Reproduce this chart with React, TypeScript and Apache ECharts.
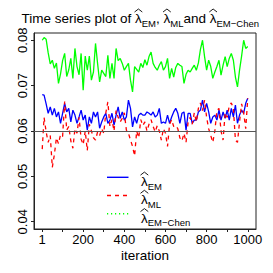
import React, { useEffect, useRef } from "react";
import * as echarts from "echarts";

const iterations: number[] = [
  1, 10, 20, 30, 40, 50, 60, 70, 80, 90, 100, 110, 120, 130, 140, 150, 160, 170, 180, 190,
  200, 210, 220, 230, 240, 250, 260, 270, 280, 290, 300, 310, 320, 330, 340, 350, 360, 370, 380, 390,
  400, 410, 420, 430, 440, 450, 460, 470, 480, 490, 500, 510, 520, 530, 540, 550, 560, 570, 580, 590,
  600, 610, 620, 630, 640, 650, 660, 670, 680, 690, 700, 710, 720, 730, 740, 750, 760, 770, 780, 790,
  800, 810, 820, 830, 840, 850, 860, 870, 880, 890, 900, 910, 920, 930, 940, 950, 960, 970, 980, 990, 1000,
];

const lambdaEM: number[] = [
  0.0680, 0.0679, 0.0660, 0.0639, 0.0653, 0.0635, 0.0650, 0.0631, 0.0642, 0.0617,
  0.0639, 0.0661, 0.0642, 0.0650, 0.0620, 0.0646, 0.0635, 0.0617, 0.0631, 0.0646,
  0.0624, 0.0635, 0.0602, 0.0631, 0.0617, 0.0642, 0.0631, 0.0642, 0.0606, 0.0620,
  0.0631, 0.0639, 0.0617, 0.0624, 0.0639, 0.0613, 0.0635, 0.0653, 0.0628, 0.0642,
  0.0624, 0.0631, 0.0668, 0.0650, 0.0609, 0.0631, 0.0617, 0.0635, 0.0639, 0.0635,
  0.0635, 0.0642, 0.0639, 0.0635, 0.0642, 0.0631, 0.0635, 0.0650, 0.0617, 0.0620,
  0.0617, 0.0635, 0.0617, 0.0631, 0.0642, 0.0650, 0.0639, 0.0617, 0.0639, 0.0642,
  0.0602, 0.0639, 0.0639, 0.0617, 0.0624, 0.0624, 0.0642, 0.0646, 0.0668, 0.0642,
  0.0661, 0.0642, 0.0617, 0.0631, 0.0635, 0.0624, 0.0646, 0.0624, 0.0642, 0.0628,
  0.0646, 0.0624, 0.0650, 0.0631, 0.0657, 0.0617, 0.0635, 0.0646, 0.0639, 0.0661, 0.0672,
];

const lambdaML: number[] = [
  0.0560, 0.0630, 0.0598, 0.0575, 0.0590, 0.0520, 0.0548, 0.0585, 0.0572, 0.0592,
  0.0588, 0.0665, 0.0602, 0.0610, 0.0578, 0.0562, 0.0605, 0.0595, 0.0630, 0.0582,
  0.0570, 0.0600, 0.0557, 0.0615, 0.0600, 0.0585, 0.0580, 0.0598, 0.0590, 0.0605,
  0.0595, 0.0640, 0.0664, 0.0610, 0.0625, 0.0600, 0.0645, 0.0630, 0.0620, 0.0628,
  0.0640, 0.0602, 0.0595, 0.0580, 0.0566, 0.0545, 0.0600, 0.0585, 0.0625, 0.0612,
  0.0620, 0.0600, 0.0615, 0.0625, 0.0610, 0.0598, 0.0612, 0.0600, 0.0580, 0.0605,
  0.0595, 0.0566, 0.0615, 0.0625, 0.0610, 0.0612, 0.0605, 0.0585, 0.0578, 0.0595,
  0.0575, 0.0620, 0.0630, 0.0615, 0.0640, 0.0620, 0.0650, 0.0662, 0.0645, 0.0668,
  0.0630, 0.0605, 0.0590, 0.0575, 0.0600, 0.0645, 0.0650, 0.0600, 0.0580, 0.0640,
  0.0630, 0.0655, 0.0662, 0.0650, 0.0580, 0.0575, 0.0620, 0.0660, 0.0640, 0.0605, 0.0672,
];

const lambdaChen: number[] = [
  0.0800, 0.0806, 0.0802, 0.0772, 0.0748, 0.0756, 0.0738, 0.0750, 0.0705, 0.0726,
  0.0755, 0.0771, 0.0720, 0.0735, 0.0760, 0.0716, 0.0782, 0.0742, 0.0724, 0.0771,
  0.0690, 0.0765, 0.0734, 0.0765, 0.0712, 0.0730, 0.0793, 0.0749, 0.0708, 0.0734,
  0.0727, 0.0720, 0.0767, 0.0716, 0.0749, 0.0716, 0.0782, 0.0755, 0.0760, 0.0749,
  0.0734, 0.0742, 0.0749, 0.0712, 0.0686, 0.0742, 0.0736, 0.0730, 0.0749, 0.0740,
  0.0757, 0.0745, 0.0764, 0.0774, 0.0749, 0.0740, 0.0734, 0.0745, 0.0753, 0.0734,
  0.0742, 0.0760, 0.0716, 0.0738, 0.0719, 0.0740, 0.0749, 0.0745, 0.0742, 0.0705,
  0.0725, 0.0734, 0.0730, 0.0738, 0.0745, 0.0734, 0.0750, 0.0780, 0.0800, 0.0764,
  0.0734, 0.0756, 0.0742, 0.0716, 0.0730, 0.0742, 0.0756, 0.0723, 0.0745, 0.0764,
  0.0742, 0.0760, 0.0771, 0.0756, 0.0719, 0.0697, 0.0734, 0.0765, 0.0800, 0.0782, 0.0786,
];

const xTickValues: number[] = [1, 100, 200, 300, 400, 500, 600, 700, 800, 900, 1000];
const xLabelValues: number[] = [1, 200, 400, 600, 800, 1000];
const yTickValues: number[] = [0.04, 0.05, 0.06, 0.07, 0.08];
const refLine = 0.06;

// title pieces: [text, isSubscript, hasHat]
const titlePieces: [string, boolean, boolean][] = [
  ["Time series plot of ", false, false],
  ["\u03bb", false, true],
  ["EM", true, false],
  [", ", false, false],
  ["\u03bb", false, true],
  ["ML", true, false],
  ["and ", false, false],
  ["\u03bb", false, true],
  ["EM\u2212Chen", true, false],
];
const legendLabels: string[] = ["EM", "ML", "EM\u2212Chen"];
const legendColors: string[] = ["#0000ff", "#ff0000", "#00ff00"];

const FONT = "'Liberation Sans', Arial, Helvetica, sans-serif";
const INK = "#222";
const MAIN = 13.5;
const SUB = 9.5;

function measure(text: string, size: number): number {
  const c = document.createElement("canvas");
  const ctx = c.getContext("2d");
  if (!ctx) return text.length * size * 0.55;
  ctx.font = `${size}px ${FONT}`;
  return ctx.measureText(text).width;
}

// lays out a math-like label: main text bottom at y, subscripts lowered, hats drawn above λ
function mathLabel(pieces: [string, boolean, boolean][], x0: number, bottom: number): any[] {
  const out: any[] = [];
  let x = x0;
  pieces.forEach(([t, sub, hat]) => {
    const size = sub ? SUB : MAIN;
    const w = measure(t, size);
    out.push({
      type: "text",
      x,
      y: sub ? bottom + 2.5 : bottom,
      style: {
        text: t,
        fontSize: size,
        fontFamily: FONT,
        fontWeight: "normal",
        fill: "#000",
        verticalAlign: "bottom",
      },
      z: 10,
    });
    if (hat) {
      out.push({
        type: "polyline",
        shape: {
          points: [
            [x - 0.5, bottom - 13.5],
            [x + w / 2, bottom - 16.5],
            [x + w + 0.5, bottom - 13.5],
          ],
        },
        style: { stroke: "#000", lineWidth: 0.9, fill: null },
        z: 10,
      });
    }
    x += w;
  });
  return out;
}

export default function App() {
  const ref = useRef<HTMLDivElement>(null);
  useEffect(() => {
    if (!ref.current) return;
    const chart = echarts.init(ref.current, null, { renderer: "svg" });
    const pair = (vals: number[]) => iterations.map((it, k) => [it, vals[k]]);
    const dashes: any[] = [null, [4, 4], [1.2, 2.8]];
    const lineYs = [177.3, 195.5, 213.8];
    const graphics: any[] = [];
    graphics.push(...mathLabel(titlePieces, 21.5, 25.5));
    legendLabels.forEach((lab, k) => {
      graphics.push({
        type: "line",
        shape: { x1: 107, y1: lineYs[k], x2: 128.5, y2: lineYs[k] },
        style: { stroke: legendColors[k], lineWidth: 1.4, lineDash: dashes[k] },
        z: 10,
      });
      graphics.push(
        ...mathLabel(
          [
            ["\u03bb", false, true],
            [lab, true, false],
          ],
          141,
          lineYs[k] + 11.3
        )
      );
    });
    chart.setOption({
      animation: false,
      backgroundColor: "#fff",
      grid: { left: 34, right: 17, top: 33, bottom: 44, show: true, borderColor: INK, borderWidth: 1 },
      xAxis: {
        type: "value",
        min: -39,
        max: 1040,
        splitLine: { show: false },
        axisLine: { show: true, onZero: false, lineStyle: { color: INK, width: 1 } },
        axisTick: { show: true, length: 3, customValues: xTickValues, lineStyle: { color: INK } },
        axisLabel: {
          customValues: xLabelValues,
          margin: 5,
          fontSize: 13,
          lineHeight: 11,
          fontFamily: FONT,
          color: "#000",
          hideOverlap: false,
          formatter: (v: number) => String(v),
        },
        name: "iteration",
        nameLocation: "middle",
        nameGap: 20,
        nameMoveOverlap: false,
        nameTextStyle: { fontSize: 13.5, fontFamily: FONT, color: "#000", verticalAlign: "top", lineHeight: 12 },
      },
      yAxis: {
        type: "value",
        min: 0.0384,
        max: 0.0816,
        splitLine: { show: false },
        axisLine: { show: true, onZero: false, lineStyle: { color: INK, width: 1 } },
        axisTick: { show: true, length: 3, customValues: yTickValues, lineStyle: { color: INK } },
        axisLabel: {
          customValues: yTickValues,
          rotate: 90,
          margin: 5,
          fontSize: 13,
          fontFamily: FONT,
          color: "#000",
          formatter: (v: number) => v.toFixed(2),
        },
      },
      series: [
        {
          name: "EM",
          type: "line",
          data: pair(lambdaEM),
          showSymbol: false,
          symbol: "none",
          lineStyle: { color: "#0000ff", width: 1.3 },
          z: 3,
          markLine: {
            silent: true,
            symbol: "none",
            label: { show: false },
            lineStyle: { color: "#555", width: 1, type: "solid" },
            data: [{ yAxis: refLine }],
          },
        },
        {
          name: "ML",
          type: "line",
          data: pair(lambdaML),
          showSymbol: false,
          symbol: "none",
          lineStyle: { color: "#ff0000", width: 1.3, type: [4, 4] },
          z: 4,
        },
        {
          name: "EM-Chen",
          type: "line",
          data: pair(lambdaChen),
          showSymbol: false,
          symbol: "none",
          lineStyle: { color: "#00ff00", width: 1.3 },
          z: 2,
        },
      ],
      graphic: graphics,
    });
    return () => chart.dispose();
  }, []);
  return (
    <div
      ref={ref}
      style={{ position: "fixed", left: 0, top: 0, width: 273, height: 273, background: "#fff" }}
    />
  );
}
